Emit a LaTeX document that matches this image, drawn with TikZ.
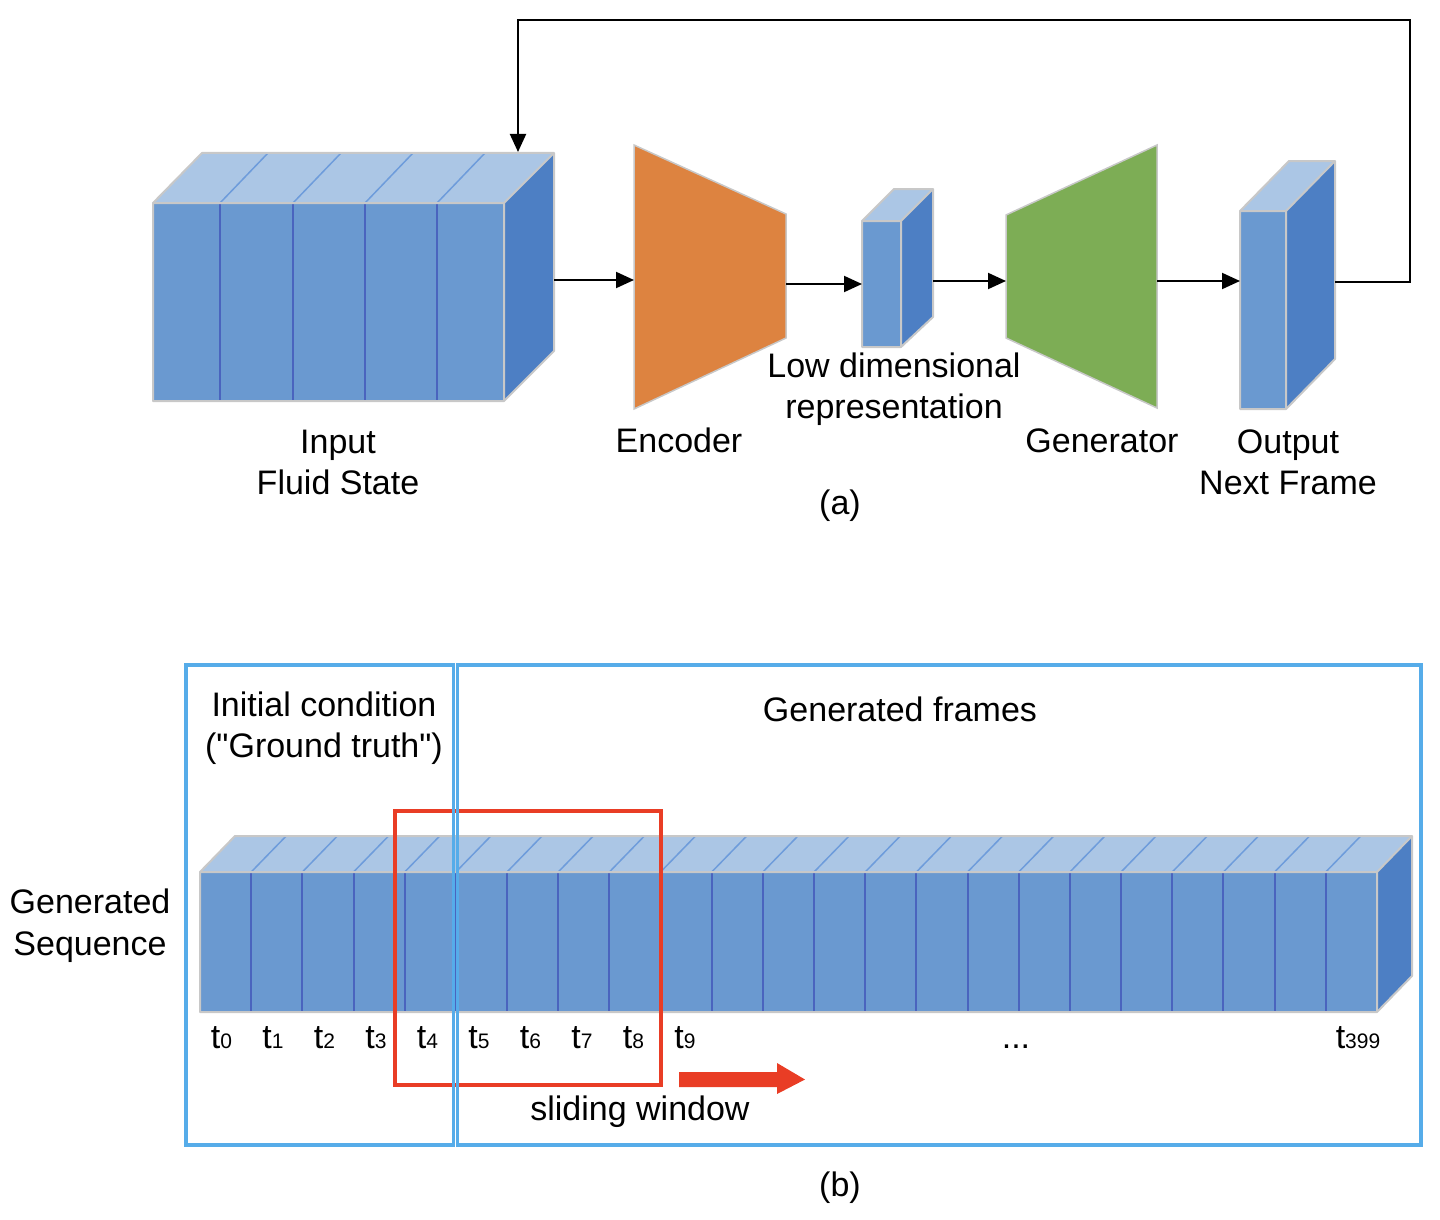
\documentclass[tikz,border=0pt]{standalone}
\usepackage{fontspec}
\setmainfont{Liberation Sans}
\newfontfamily\rawfont{Liberation Sans}
\usetikzlibrary{arrows.meta}
\definecolor{frontc}{HTML}{6A99D0}
\definecolor{topc}{HTML}{ABC6E5}
\definecolor{sidec}{HTML}{4D7FC4}
\definecolor{divc}{HTML}{4A64BE}
\definecolor{toplc}{HTML}{6E9CDB}
\definecolor{edgec}{HTML}{C8C8C8}
\definecolor{encc}{HTML}{DD8340}
\definecolor{genc}{HTML}{7DAD55}
\definecolor{frameblue}{HTML}{56ACE9}
\definecolor{winred}{HTML}{E93D25}
\newcommand\tlab[1]{t{\fontsize{21}{21}\selectfont #1}}
\begin{document}
\begin{tikzpicture}[x=1pt,y=-1pt,
  lbl/.style={font=\fontsize{34}{40}\selectfont, inner sep=0pt, anchor=base},
  arr/.style={line width=2pt, -{Triangle[length=18pt,width=16pt]}},
  face/.style={fill=frontc, inner sep=0pt, outer sep=0pt, anchor=north west},
  divl/.style={draw=divc, line width=2pt},
  topl/.style={draw=toplc, line width=1.5pt},
  edgel/.style={draw=edgec, line width=2pt, line join=round},
  frameline/.style={draw=frameblue, line width=3.5pt},
  winline/.style={draw=winred, line width=3.5pt}]
\useasboundingbox (0,0) rectangle (1440,1220);

% ---------- (a) ----------
% Input block
\fill[topc] (153,203) -- (202,153) -- (554,153) -- (504,203) -- cycle;
\fill[sidec] (504,203) -- (554,153) -- (554,351) -- (504,401) -- cycle;
\node[face, minimum width=351pt, minimum height=198pt] (in) at (153,203) {};
\foreach \x in {220,293,365,437} {
  \draw[divl] (\x,203) -- (\x,401);
  \draw[topl] (\x,203) -- ({\x+48},153);
}
\draw[edgel] (153,203) -- (202,153) -- (554,153) -- (554,351) -- (504,401) -- (153,401) -- cycle;
\draw[edgel] (153,203) -- (504,203) -- (554,153) (504,203) -- (504,401);

% Encoder
\node[inner sep=0pt] (enc) at (710,277) {};
\path[fill=encc, draw=edgec, line width=1.5pt] (634,145) -- (786,214) -- (786,338) -- (634,409) -- cycle;

% Low-dimensional block
\fill[topc] (862,221) -- (894,189) -- (933,189) -- (901,221) -- cycle;
\fill[sidec] (901,221) -- (933,189) -- (933,317) -- (901,347) -- cycle;
\node[face, minimum width=39pt, minimum height=126pt] (low) at (862,221) {};
\draw[edgel] (862,221) -- (894,189) -- (933,189) -- (933,317) -- (901,347) -- (862,347) -- cycle;
\draw[edgel] (862,221) -- (901,221) -- (933,189) (901,221) -- (901,347);

% Generator
\node[inner sep=0pt] (gen) at (1082,277) {};
\path[fill=genc, draw=edgec, line width=1.5pt] (1006,215) -- (1157,145) -- (1157,408) -- (1006,338) -- cycle;

% Output block
\fill[topc] (1240,211) -- (1289,161) -- (1335,161) -- (1286,211) -- cycle;
\fill[sidec] (1286,211) -- (1335,161) -- (1335,359) -- (1286,409) -- cycle;
\node[face, minimum width=46pt, minimum height=198pt] (out) at (1240,211) {};
\draw[edgel] (1240,211) -- (1289,161) -- (1335,161) -- (1335,359) -- (1286,409) -- (1240,409) -- cycle;
\draw[edgel] (1240,211) -- (1286,211) -- (1335,161) (1286,211) -- (1286,409);

% connector ports
\coordinate (inR) at (554,280);
\coordinate (encL) at (634,280);
\coordinate (encR) at (786,284);
\coordinate (lowL) at (862,284);
\coordinate (lowR) at (933,281);
\coordinate (genL) at (1006,281);
\coordinate (genR) at (1157,281);
\coordinate (outL) at (1240,281);
\coordinate (outR) at (1335,282);
\coordinate (inTop) at (518,152);

\draw[arr] (inR) -- (encL);
\draw[arr] (encR) -- (lowL);
\draw[arr] (lowR) -- (genL);
\draw[arr] (genR) -- (outL);
\draw[arr, line join=miter] (outR) -- (1410,282) -- (1410,20) -- (518,20) -- (inTop);

\node[lbl] (tIn1) at (338,453) {Input};
\node[lbl] (tIn2) at (338,494) {Fluid State};
\node[lbl] (tEnc) at (679,452) {Encoder};
\node[lbl] (tLow1) at (894,377) {Low dimensional};
\node[lbl] (tLow2) at (894,418) {representation};
\node[lbl] (tGen) at (1102,452) {Generator};
\node[lbl] (tOut1) at (1288,453) {Output};
\node[lbl] (tOut2) at (1288,494) {Next Frame};
\node[lbl] (capA) at (840,514) {(a)};

% ---------- (b) ----------
\fill[topc] (200,872) -- (235,836) -- (1412,836) -- (1377,872) -- cycle;
\fill[sidec] (1377,872) -- (1412,836) -- (1412,976) -- (1377,1012) -- cycle;
\node[face, minimum width=1177pt, minimum height=140pt] (seq) at (200,872) {};
\foreach \k in {1,...,22} {
  \pgfmathsetmacro\xx{200+51.17*\k}
  \draw[divl] (\xx,872) -- (\xx,1012);
  \draw[topl] (\xx,872) -- ({\xx+35},836);
}
\draw[edgel] (200,872) -- (235,836) -- (1412,836) -- (1412,976) -- (1377,1012) -- (200,1012) -- cycle;
\draw[edgel] (200,872) -- (1377,872) -- (1412,836) (1377,872) -- (1377,1012);

% sliding window
\draw[winline] (395,811) rectangle (661,1085);
\node[inner sep=0pt] (win) at (528,948) {};

% frames
\draw[frameline] (186,665) rectangle (453.5,1145);
\draw[frameline] (457.5,665) rectangle (1421,1145);

% red arrow
\fill[winred] (679,1072) -- (777,1072) -- (777,1063) -- (805,1079.5) -- (777,1094) -- (777,1087) -- (679,1087) -- cycle;

\foreach \k in {0,...,9} {
  \node[lbl] (t\k) at ({221.5+51.5*\k},1048) {\tlab{\k}};
}
\node[lbl] (dots) at (1016,1048) {...};
\node[lbl] (tlast) at (1358,1048) {\tlab{399}};

\node[lbl] (tInit1) at (324,716) {Initial condition};
\node[lbl] (tInit2) at (324,757) {\rawfont("Ground truth")};
\node[lbl] (tGenF) at (900,721) {Generated frames};
\node[lbl] (tSeq1) at (90,913) {Generated};
\node[lbl] (tSeq2) at (90,955) {Sequence};
\node[lbl] (tSlide) at (640,1120) {sliding window};
\node[lbl] (capB) at (840,1196) {(b)};
\end{tikzpicture}
\end{document}
